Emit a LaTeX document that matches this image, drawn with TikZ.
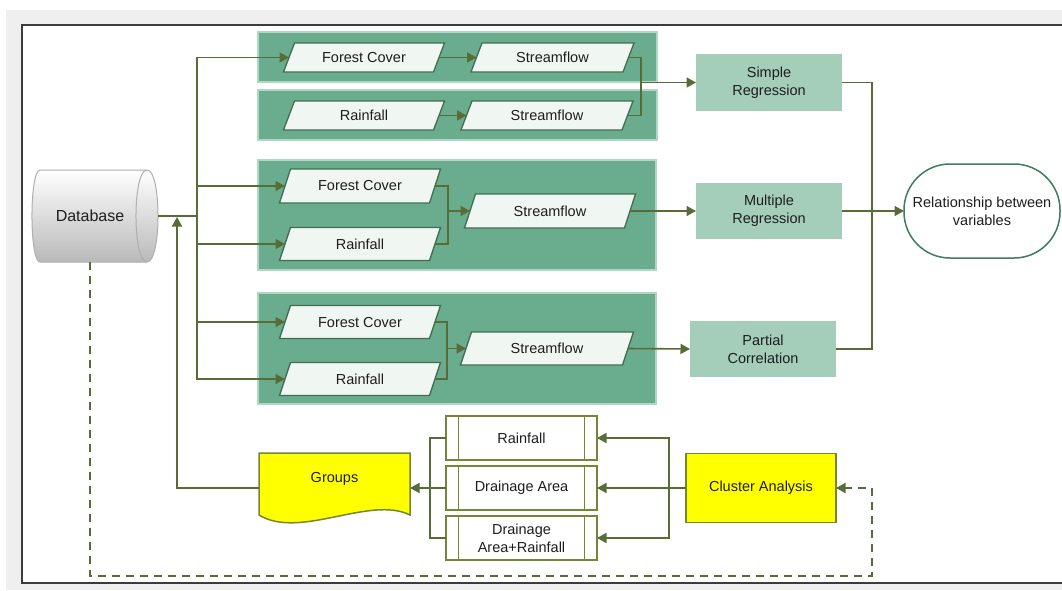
\documentclass[tikz,border=0pt]{standalone}
\usepackage{fontspec}
\setmainfont{Liberation Sans}
\usetikzlibrary{arrows.meta,calc}
\definecolor{bggrey}{RGB}{239,239,239}
\definecolor{framegrey}{RGB}{60,60,60}
\definecolor{panelgreen}{RGB}{106,172,142}
\definecolor{panelborder}{RGB}{175,215,195}
\definecolor{pfill}{RGB}{240,246,242}
\definecolor{pborder}{RGB}{65,110,80}
\definecolor{aboxgreen}{RGB}{164,205,186}
\definecolor{relgreen}{RGB}{60,125,95}
\definecolor{connc}{RGB}{88,108,56}
\definecolor{yel}{RGB}{255,255,0}
\definecolor{olivec}{RGB}{115,135,55}
\definecolor{txt}{RGB}{30,30,30}
\newcommand\para[6]{%
  \draw[pbox] ({#2-#4/2-5.5},{#3+#5/2}) -- ({#2-#4/2+5.5},{#3-#5/2}) -- ({#2+#4/2+5.5},{#3-#5/2}) -- ({#2+#4/2-5.5},{#3+#5/2}) -- cycle;
  \node[ptext, minimum width=#4, minimum height=#5] (#1) at (#2,#3) {#6};
}
\begin{document}
\begin{tikzpicture}[x=1pt,y=-1pt,
  every node/.style={font=\fontsize{14.5}{18}\selectfont, text=txt, inner sep=0pt, outer sep=0pt},
  panel/.style={fill=panelgreen, draw=panelborder, line width=1.5pt},
  pbox/.style={fill=pfill, draw=pborder, line width=1.3pt},
  ptext/.style={draw=none},
  abox/.style={fill=aboxgreen, draw=none, align=center, minimum width=146, minimum height=56},
  line/.style={draw=connc, line width=1.6pt},
  arr/.style={line, -{Triangle[length=9.5pt,width=10pt]}},
  darr/.style={arr, dash pattern=on 8pt off 6pt},
  ppbox/.style={draw=olivec, line width=1.5pt, fill=white, align=center, minimum width=151, minimum height=44},
]
\useasboundingbox (0,0) rectangle (1062,590);
\clip (0,0) rectangle (1062,590);
\fill[white] (0,0) rectangle (1062,590);
\fill[bggrey] (6,10) rectangle (1062,590);
\draw[fill=white, draw=framegrey, line width=1.2pt] (22,25) rectangle (1075,583);

% panels
\draw[panel] (258,32) rectangle (657,82);
\draw[panel] (258,90) rectangle (657,140);
\draw[panel] (258,160) rectangle (656,270);
\draw[panel] (258,293) rectangle (656,404);

% database
\path[top color=white, bottom color={rgb,255:red,185;green,185;blue,185}]
  (40,170) -- (147,170) .. controls (161.7,170) and (161.7,262) .. (147,262) -- (40,262)
  .. controls (29.3,262) and (29.3,170) .. (40,170) -- cycle;
\draw[draw={rgb,255:red,175;green,175;blue,175}, line width=1pt]
  (40,170) -- (147,170) .. controls (161.7,170) and (161.7,262) .. (147,262) -- (40,262)
  .. controls (29.3,262) and (29.3,170) .. (40,170) -- cycle;
\draw[draw={rgb,255:red,175;green,175;blue,175}, line width=1pt]
  (147,170) .. controls (132.3,170) and (132.3,262) .. (147,262);
\node[minimum width=126, minimum height=92, font=\fontsize{16}{19}\selectfont] (db) at (95,216) {\hspace*{-10pt}Database};

% parallelograms
\para{fc1}{364}{57.5}{150}{29}{Forest Cover}
\para{sf1}{552.5}{57.5}{152}{29}{Streamflow}
\para{rf2}{364}{115.5}{150}{29}{Rainfall}
\para{sf2}{547}{115.5}{161}{29}{Streamflow}
\para{fc3}{360}{186}{150}{34}{Forest Cover}
\para{rf3}{360}{244}{150}{33}{Rainfall}
\para{sf3}{550}{211}{160}{34}{Streamflow}
\para{fc4}{360}{322}{150}{33}{Forest Cover}
\para{rf4}{360}{379}{150}{33}{Rainfall}
\para{sf4}{547}{348.5}{162}{33}{Streamflow}

% analysis boxes
\node[abox, minimum height=57] (sr) at (769,82.5) {Simple\\Regression};
\node[abox] (mr) at (769,211) {Multiple\\Regression};
\node[abox] (pc) at (763,349) {Partial\\Correlation};
\node[draw=relgreen, line width=1.5pt, fill=white, rounded corners=46pt, minimum width=156, minimum height=94, align=center] (rel) at (982,211) {Relationship between\\variables};

% bottom boxes
\node[ppbox] (b1) at (521.5,438) {Rainfall};
\node[ppbox] (b2) at (521.5,488) {Drainage Area};
\node[ppbox] (b3) at (521.5,538) {Drainage\\Area+Rainfall};
\foreach \b in {b1,b2,b3}{
  \draw[draw=olivec, line width=1.5pt] ([xshift=12.5]\b.north west) -- ([xshift=12.5]\b.south west);
  \draw[draw=olivec, line width=1.5pt] ([xshift=-12.5]\b.north east) -- ([xshift=-12.5]\b.south east);
}
\draw[fill=yel, draw=olivec, line width=1.5pt]
  (259,453) -- (410,453) -- (410,515) .. controls (370,495) and (300,540) .. (259,515) -- cycle;
\node[minimum width=151, minimum height=52] (groups) at (334.5,479) {Groups};
\node[fill=yel, draw=olivec, line width=1.5pt, minimum width=150, minimum height=69] (cl) at (761,488) {Cluster Analysis};

% connectors top
\coordinate (tr) at (197,216);
\draw[line] (db.east) -- (tr);
\draw[arr] (tr) |- (fc1.west);
\draw[arr] (tr) |- (fc3.west);
\draw[arr] (tr) |- (rf3.west);
\draw[arr] (tr) |- (fc4.west);
\draw[arr] (tr) |- (rf4.west);
\draw[arr] (fc1.east) -- (sf1.west);
\draw[arr] (rf2.east) -- (sf2.west);
\coordinate (j1) at (641,82.5);
\draw[line] (sf1.east) -| (j1);
\draw[line] (sf2.east) -| (j1);
\draw[arr] (j1) -- (sr.west);
\coordinate (j3) at (448,211);
\draw[line] (fc3.east) -| (j3);
\draw[line] (rf3.east) -| (j3);
\draw[arr] (j3) -- (sf3.west);
\draw[arr] (sf3.east) -- (mr.west);
\coordinate (j4) at (447,348.5);
\draw[line] (fc4.east) -| (j4);
\draw[line] (rf4.east) -| (j4);
\draw[arr] (j4) -- (sf4.west);
\draw[arr] (sf4.east) -- (pc.west);
\coordinate (j5) at (872,211);
\draw[line] (sr.east) -| (j5);
\draw[line] (pc.east) -| (j5);
\draw[arr] (mr.east) -- (rel.west);

% connectors bottom
\coordinate (j6) at (669,488);
\draw[arr] (cl.west) -- (b2.east);
\draw[arr] (j6) |- (b1.east);
\draw[arr] (j6) |- (b3.east);
\coordinate (j7) at (430,488);
\draw[line] (b1.west) -| (j7);
\draw[line] (b3.west) -| (j7);
\draw[arr] (b2.west) -- (b2.west -| groups.east);
\coordinate (dbin) at (177,217);
\draw[arr] (b2.west -| groups.west) -| (dbin);
\coordinate (d1) at (872,576);
\draw[darr] ([xshift=-5]db.south) |- (d1) |- (cl.east);
\end{tikzpicture}
\end{document}
